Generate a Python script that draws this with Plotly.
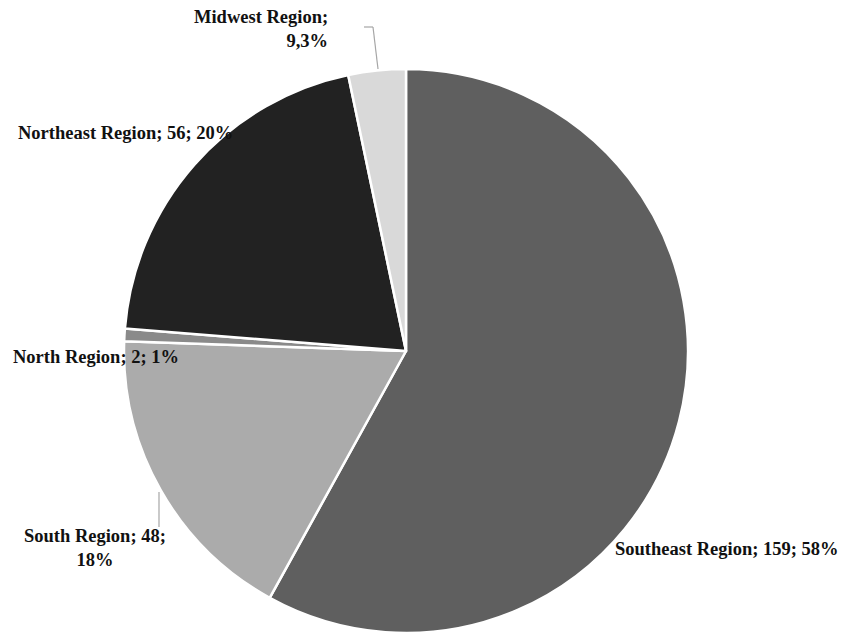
import plotly.graph_objects as go

regions = ["Southeast Region", "South Region", "North Region", "Northeast Region", "Midwest Region"]
counts = [159, 48, 2, 56, 9]
label_texts = ["Southeast Region; 159; 58%", "South Region; 48;<br>18%", "North Region; 2; 1%",
               "Northeast Region; 56; 20%", "Midwest Region;<br>9,3%"]
colors = ["#5f5f5f", "#ababab", "#8a8a8a", "#222222", "#d9d9d9"]

W, H = 842, 633
cx, cy, r = 406, 351, 282

fig = go.Figure(go.Pie(
    labels=regions, values=counts, sort=False, direction="clockwise", rotation=0,
    marker=dict(colors=colors, line=dict(color="white", width=2.5)),
    textinfo="none", hoverinfo="label+value+percent", showlegend=False,
    domain=dict(x=[(cx - r) / W, (cx + r) / W],
                y=[max(0, (H - cy - r) / H), min(1, (H - cy + r) / H)]),
))

# label layout (pixel positions of the text anchors)
label_pos = [(727, 549, "center"), (95, 548, "center"), (96, 357, "center"),
             (125, 133, "center"), (330, 29, "right")]
font = dict(family="Liberation Serif", size=18.5, color="#111111")
for txt, (px, py, al) in zip(label_texts, label_pos):
    xanchor = "center" if al == "center" else "right"
    fig.add_annotation(x=px / W, y=1 - py / H, xref="paper", yref="paper", text="<b>" + txt + "</b>",
                       showarrow=False, xanchor=xanchor, yanchor="middle", align=al, font=font)

# leader lines
def seg(x0, y0, x1, y1):
    fig.add_shape(type="line", xref="paper", yref="paper", x0=x0 / W, y0=1 - y0 / H, x1=x1 / W, y1=1 - y1 / H,
                  line=dict(color="#a6a6a6", width=1.2))

seg(378, 69, 373, 27)
seg(373, 27, 364, 27)
seg(159, 492, 159, 527)

fig.update_layout(width=W, height=H, margin=dict(l=0, r=0, t=0, b=0),
                  paper_bgcolor="white", plot_bgcolor="white")
fig.write_html("out.html")
